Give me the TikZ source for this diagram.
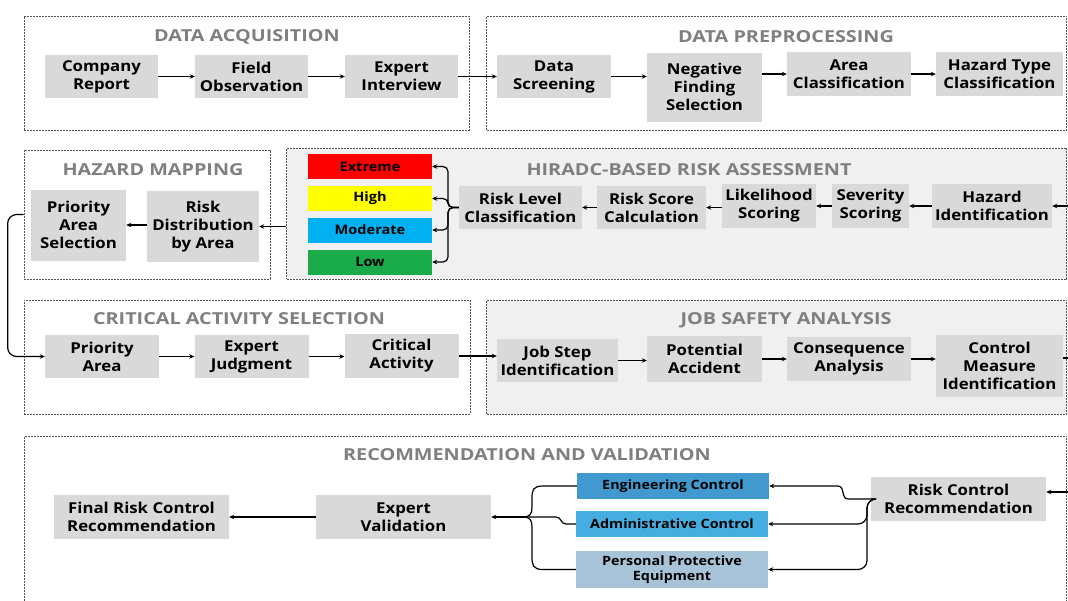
\documentclass[tikz,border=0pt]{standalone}
\usepackage{fontspec}
\setmainfont{Open Sans}
\newfontfamily\bxfont{Open Sans}[FakeStretch=1.12]
\newfontfamily\ttlfont{Open Sans}[FakeStretch=1.2]
\usetikzlibrary{arrows.meta}
\definecolor{boxgray}{HTML}{D9D9D9}
\definecolor{grpfill}{HTML}{F0F0F0}
\definecolor{grpline}{HTML}{555555}
\definecolor{titlegray}{HTML}{7F7F7F}
\definecolor{cExtreme}{HTML}{FF0000}
\definecolor{cHigh}{HTML}{FFFF00}
\definecolor{cModerate}{HTML}{00B0F0}
\definecolor{cLow}{HTML}{1AAB4B}
\definecolor{cEng}{HTML}{4199CF}
\definecolor{cAdm}{HTML}{45ADE0}
\definecolor{cPPE}{HTML}{A7C3D8}
\begin{document}
\begin{tikzpicture}[x=1pt,y=-1pt,
  grp/.style={draw=grpline, line width=0.7pt, dash pattern=on 2pt off 1pt, inner sep=0pt},
  grpt/.style={text=titlegray, font=\ttlfont\fontsize{16.5}{20}\selectfont\bfseries, inner sep=0pt},
  bx/.style={fill=boxgray, align=center, inner sep=1pt, font=\bxfont\fontsize{15}{18}\selectfont\bfseries},
  lvl/.style={align=center, inner sep=1pt, minimum width=124pt, minimum height=25pt, font=\bxfont\fontsize{13}{15}\selectfont\bfseries},
  ctl/.style={align=center, inner sep=1pt, minimum width=192pt, font=\bxfont\fontsize{12.8}{15.5}\selectfont\bfseries},
  arr/.style={-{Stealth[length=5pt,width=4.5pt]}, line width=1.2pt},
  ln/.style={line width=1.2pt}]
\clip (0,0) rectangle (1068,600);
% groups
\node[grp, minimum width=445pt, minimum height=114pt] (gDA) at (246.5,73) {};
\node[grp, minimum width=580pt, minimum height=114pt] (gDP) at (776.5,73) {};
\node[grp, minimum width=246pt, minimum height=129pt] (gHM) at (147,214.5) {};
\node[grp, fill=grpfill, minimum width=780pt, minimum height=131pt] (gHR) at (676.5,213.5) {};
\node[grp, minimum width=446pt, minimum height=114pt] (gCA) at (247,357) {};
\node[grp, fill=grpfill, minimum width=580pt, minimum height=114pt] (gJS) at (776.5,357) {};
\node[grp, minimum width=1042pt, minimum height=180pt] (gRV) at (545.5,526) {};
% titles
\node[grpt] (tDA) at (247,36.5) {DATA ACQUISITION};
\node[grpt] (tDP) at (786,36.5) {DATA PREPROCESSING};
\node[grpt] (tHM) at (153,169.5) {HAZARD MAPPING};
\node[grpt] (tHR) at (689,169.5) {HIRADC-BASED RISK ASSESSMENT};
\node[grpt] (tCA) at (239,318.5) {CRITICAL ACTIVITY SELECTION};
\node[grpt] (tJS) at (786,320.5) {JOB SAFETY ANALYSIS};
\node[grpt] (tRV) at (527,454.5) {RECOMMENDATION AND VALIDATION};
% row 1
\node[bx, minimum width=113pt, minimum height=43pt] (cr) at (101.5,76.5) {Company\\Report};
\node[bx, minimum width=113pt, minimum height=43pt] (fo) at (251.5,76.5) {Field\\Observation};
\node[bx, minimum width=113pt, minimum height=43pt] (ei) at (401.5,76.5) {Expert\\Interview};
\node[bx, minimum width=114pt, minimum height=43pt] (ds) at (554,76.5) {Data\\Screening};
\node[bx, minimum width=115pt, minimum height=69pt] (nf) at (704.5,87) {Negative\\Finding\\Selection};
\node[bx, minimum width=124pt, minimum height=44pt] (ac) at (849,74) {Area\\Classification};
\node[bx, minimum width=127pt, minimum height=44pt] (ht) at (999.5,74) {Hazard Type\\Classification};
\draw[arr] (cr) -- (fo);
\draw[arr] (fo) -- (ei);
\draw[arr] (ei) -- (ds);
\draw[arr] (ds.east) -- (ds.east -| nf.west);
\draw[arr] (nf.east |- ac.west) -- (ac.west);
\draw[arr] (ac) -- (ht);
% row 2
\node[bx, minimum width=95pt, minimum height=71pt] (pas) at (78.5,225) {Priority\\Area\\Selection};
\node[bx, minimum width=112pt, minimum height=71pt] (rda) at (203,226.5) {Risk\\Distribution\\by Area};
\node[lvl, fill=cExtreme] (lx) at (370,166.5) {Extreme};
\node[lvl, fill=cHigh] (lh) at (370,198.5) {High};
\node[lvl, fill=cModerate] (lm) at (370,230) {Moderate};
\node[lvl, fill=cLow] (ll) at (370,262) {Low};
\node[bx, minimum width=123pt, minimum height=43pt] (rlc) at (520.5,207.5) {Risk Level\\Classification};
\node[bx, minimum width=109pt, minimum height=43pt] (rsc) at (651.5,207.5) {Risk Score\\Calculation};
\node[bx, minimum width=94pt, minimum height=44pt] (lks) at (769,206) {Likelihood\\Scoring};
\node[bx, minimum width=77pt, minimum height=44pt] (svs) at (870.5,206) {Severity\\Scoring};
\node[bx, minimum width=120pt, minimum height=44pt] (hid) at (992,206) {Hazard\\Identification};
\coordinate (inHR) at (1068,206);
\draw[arr] (inHR) -- (hid.east);
\draw[arr] (hid) -- (svs);
\draw[arr] (svs) -- (lks);
\draw[arr] (lks.west |- rsc.east) -- (rsc.east);
\draw[arr] (rsc) -- (rlc);
\coordinate (brH) at (448,207.5);
\draw[arr, rounded corners=5pt] (rlc.west) -- (brH) |- (lx.east);
\draw[arr, rounded corners=5pt] (rlc.west) -- (brH) |- (lh.east);
\draw[arr, rounded corners=5pt] (rlc.west) -- (brH) |- (lm.east);
\draw[arr, rounded corners=5pt] (rlc.west) -- (brH) |- (ll.east);
\draw[arr] (rda.east -| gHR.west) -- (rda.east);
\draw[arr] (rda.west |- pas.east) -- (pas.east);
% row 3
\node[bx, minimum width=114pt, minimum height=43pt] (pa) at (102,356.5) {Priority\\Area};
\node[bx, minimum width=114pt, minimum height=43pt] (ej) at (251.5,356.5) {Expert\\Judgment};
\node[bx, minimum width=114pt, minimum height=44pt] (ca) at (401.5,356) {Critical\\Activity};
\node[bx, minimum width=121pt, minimum height=43pt] (js) at (557.5,360.5) {Job Step\\Identification};
\node[bx, minimum width=115pt, minimum height=46pt] (pac) at (704.5,359) {Potential\\Accident};
\node[bx, minimum width=124pt, minimum height=44pt] (cna) at (849,359) {Consequence\\Analysis};
\node[bx, minimum width=127pt, minimum height=62pt] (cmi) at (999.5,366) {Control\\Measure\\Identification};
\draw[arr, rounded corners=9pt] (gHM.west) -- ++(-16,0) |- (pa.west);
\draw[arr] (pa) -- (ej);
\draw[arr] (ej.east) -- (ej.east -| ca.west);
\draw[arr] (ca.east) -- (ca.east -| js.west);
\draw[arr] (js.east) -- (js.east -| pac.west);
\draw[arr] (pac.east) -- (pac.east -| cna.west);
\draw[arr] (cna.east) -- (cna.east -| cmi.west);
\coordinate (outJS) at (1068,358);
\draw[ln] (cmi.east |- outJS) -- (outJS);
% row 4
\node[bx, minimum width=175pt, minimum height=44pt] (frc) at (141.5,517) {Final Risk Control\\Recommendation};
\node[bx, minimum width=175pt, minimum height=44pt] (ev) at (403.5,517) {Expert\\Validation};
\node[ctl, fill=cEng, minimum height=26pt] (ec) at (673,486) {Engineering Control};
\node[ctl, fill=cAdm, minimum height=26pt] (adc) at (672,524) {Administrative Control};
\node[ctl, fill=cPPE, minimum height=37pt] (ppe) at (672,569.5) {Personal Protective\\Equipment};
\node[bx, minimum width=175pt, minimum height=44pt] (rcr) at (958.5,499) {Risk Control\\Recommendation};
\coordinate (inRV) at (1068,492);
\draw[arr] (inRV) -- (inRV -| rcr.east);
\coordinate (brR) at (867,499);
\draw[arr] (rcr.west) -- (848,499) .. controls (841,499) and (845,486) .. (838,486) -- (ec.east);
\draw[arr, rounded corners=9pt] (rcr.west) -- (brR) -- (brR |- adc.east) -- (adc.east);
\draw[arr, rounded corners=9pt] (rcr.west) -- (brR) -- (brR |- ppe.east) -- (ppe.east);
\coordinate (brL) at (523,517);
\draw[ln] (ec.west) -- (543,486) .. controls (533,486) and (532,490) .. (532,498) -- (532,507) .. controls (532,514) and (530,517) .. (brL);
\draw[ln] (ppe.west) -- (543,569.5) .. controls (533,569.5) and (532,565) .. (532,557) -- (532,527) .. controls (532,520) and (530,517) .. (brL);
\draw[ln] (adc.west) -- (566,524) .. controls (560,524) and (562,517) .. (556,517) -- (brL);
\draw[arr] (brL) -- (ev.east);
\draw[arr] (ev) -- (frc);
\end{tikzpicture}
\end{document}
